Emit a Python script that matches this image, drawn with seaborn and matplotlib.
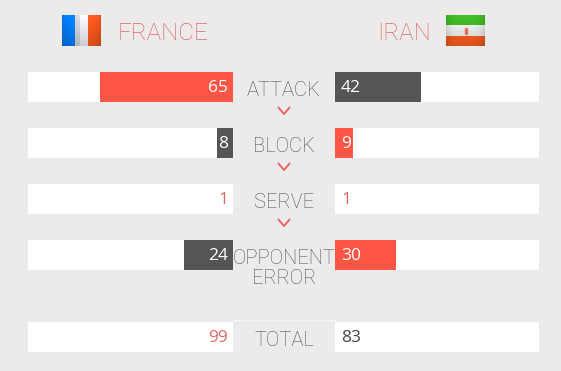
import matplotlib
matplotlib.use('Agg')
import matplotlib.pyplot as plt
from matplotlib.lines import Line2D
import numpy as np
import seaborn as sns

# data
stats = ['ATTACK', 'BLOCK', 'SERVE', 'OPPONENT\nERROR']
france = [65, 8, 1, 24]
iran = [42, 9, 1, 30]
france_total = 99
iran_total = 83
team_left = 'FRANCE'
team_right = 'IRAN'
total_label = 'TOTAL'

BG = '#ECEAEA'
RED = '#FF5545'
DARK = '#555555'
TXT_RED = '#DE6A66'
TXT_GREY = '#555555'
THIN = ['Roboto', 'DejaVu Sans']

sns.set_theme(style='white')
plt.rcParams['font.family'] = ['Open Sans', 'DejaVu Sans']
W, H = 561, 371
fig = plt.figure(figsize=(W / 100, H / 100), dpi=100, facecolor=BG)


def px_axes(x0, y0, x1, y1, **kw):
    # axes placed with pixel edges, y measured from the top
    return fig.add_axes([x0 / W, 1 - y1 / H, (x1 - x0) / W, (y1 - y0) / H], **kw)


def colours(a, b):
    # bigger value gets red, smaller dark, a tie stays white
    out = []
    for v, o in zip(a, b):
        out.append('white' if v == o else (RED if v > o else DARK))
    return out


def draw_side(ax, values, others, flip):
    sns.barplot(x=[100] * len(stats), y=stats, color='white', width=30 / 56, ax=ax, saturation=1, linewidth=0)
    sns.barplot(x=values, y=stats, hue=stats, palette=colours(values, others), width=30 / 56,
                dodge=False, legend=False, ax=ax, saturation=1, linewidth=0)
    ax.set_xlim(100, 0) if flip else ax.set_xlim(0, 100)
    ax.set_ylim(len(stats) - 1 + 15 / 56, -15 / 56)
    ax.axis('off')
    for i, (v, o) in enumerate(zip(values, others)):
        c = TXT_RED if v == o else 'white'
        off, ha = (-5, 'right') if flip else (6, 'left')
        ax.annotate(str(v), (0, i), xytext=(off * 0.72, -1), textcoords='offset points', ha=ha, va='center',
                    color=c, fontsize=12.5)


def draw_total(ax, value, colour, flip):
    sns.barplot(x=[100], y=[total_label], color='white', width=1, ax=ax, saturation=1, linewidth=0)
    ax.set_xlim(100, 0) if flip else ax.set_xlim(0, 100)
    ax.axis('off')
    off, ha = (-5, 'right') if flip else (6, 'left')
    ax.annotate(str(value), (0, 0), xytext=(off * 0.72, -1), textcoords='offset points', ha=ha, va='center',
                color=colour, fontsize=12.5)


draw_side(px_axes(28, 72, 233, 270), france, iran, True)
draw_side(px_axes(335, 72, 539, 270), iran, france, False)
draw_total(px_axes(28, 322, 233, 352), france_total, TXT_RED, True)
draw_total(px_axes(335, 322, 539, 352), iran_total, '#444444', False)

# overlay in pixel coordinates for labels and decoration
top = px_axes(0, 0, W, H)
top.set_xlim(0, W)
top.set_ylim(H, 0)
top.axis('off')
top.patch.set_alpha(0)

top.text(163, 33.5, team_left, color=TXT_RED, fontsize=17.5, ha='center', va='center', family=THIN, fontweight='light')
top.text(404.5, 33.5, team_right, color=TXT_RED, fontsize=17.5, ha='center', va='center', family=THIN, fontweight='light')

label_y = [90, 146, 202, 268.5]
for s, y in zip(stats, label_y):
    top.text(284, y, s, color=TXT_GREY, fontsize=14.5, ha='center', va='center', family=THIN, fontweight='light', linespacing=1.0)
top.text(284, 340.5, total_label, color=TXT_GREY, fontsize=14.5, ha='center', va='center', family=THIN, fontweight='light')

for cy in [107, 163, 219]:
    top.plot([278, 284, 290], [cy, cy + 7, cy], color='#F0605A', lw=1.3, solid_capstyle='butt')

fig.add_artist(Line2D([233 / W, 335 / W], [1 - 319.5 / H] * 2, color='#F7F6F6', lw=1))

# flags are small gradient images
ramp = np.linspace(1.05, 0.85, 31)[:, None, None]
shade = 1 - 0.12 * np.abs(np.linspace(-1, 1, 39))[None, :, None] ** 4

fr = np.zeros((31, 39, 3))
fr[:, :13] = [0.0, 0.5, 1.0]
fr[:, 13:26] = [0.95, 0.95, 0.97]
fr[:, 26:] = [1.0, 0.36, 0.12]
fr[:, 13:18] = [0.82, 0.84, 0.86]
ax_fr = px_axes(62, 15, 101, 46)
ax_fr.imshow(np.clip(fr * ramp * shade, 0, 1), aspect='auto', interpolation='bilinear')
ax_fr.axis('off')

ir = np.zeros((31, 39, 3))
ir[:10] = [0.25, 0.72, 0.15]
ir[10:21] = [0.95, 0.95, 0.95]
ir[21:] = [1.0, 0.38, 0.12]
ax_ir = px_axes(446, 15, 485, 46)
ax_ir.imshow(np.clip(ir * ramp * shade, 0, 1), aspect='auto', interpolation='bilinear')
ax_ir.plot([19, 19], [13, 17], color='#E0705A', lw=2.5)
ax_ir.axis('off')

fig.savefig('out.png', dpi=100, facecolor=BG)
